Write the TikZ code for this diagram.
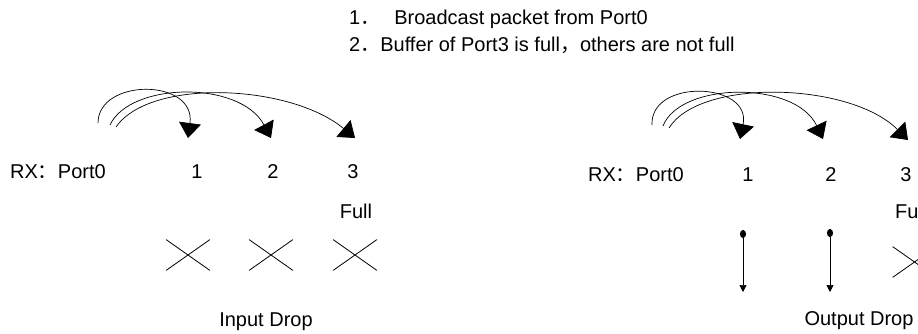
\documentclass[tikz,border=0pt]{standalone}
\usepackage{fontspec}
\setmainfont{Liberation Sans}
\newfontfamily\cjk{Noto Sans CJK SC}
\newcommand\fullw[1]{{\cjk #1}}
\usetikzlibrary{arrows.meta,shapes.misc}

\begin{document}
\begin{tikzpicture}[x=1pt, y=-1pt, font=\fontsize{20}{24}\selectfont,
  lbl/.style={inner sep=0pt, anchor=base},
  xmark/.style={cross out, draw, line width=0.8pt, inner sep=0pt, minimum width=43pt, minimum height=30pt},
  bcast/.style={-{Triangle[length=15pt,width=22pt]}, line width=0.7pt},
  drop/.style={{Circle[length=8pt,width=6pt]}-{Triangle[length=7pt,width=7pt]}, line width=0.7pt}]
  \useasboundingbox (0,0) rectangle (918,334);
  \clip (0,0) rectangle (918,334);
  % notes
  \node[lbl, anchor=base west] (h1) at (349,25) {1\fullw{．}\hspace{14pt}Broadcast packet from Port0};
  \node[lbl, anchor=base west] (h2) at (349,52) {2\fullw{．}Buffer of Port3 is full\fullw{，}others are not full};
  % input drop
  \node[lbl, anchor=base west] (rxa) at (10,178) {RX\fullw{：}Port0};
  \node[lbl] (a1) at (197,178) {1};
  \node[lbl] (a2) at (273,178) {2};
  \node[lbl] (a3) at (353,178) {3};
  \node[lbl] (fulla) at (356,218) {Full};
  \node[xmark] (xa1) at (188,255) {};
  \node[xmark] (xa2) at (271,255) {};
  \node[xmark] (xa3) at (355,255) {};
  \node[lbl] (inpd) at (266,326) {Input Drop};
  \coordinate (sa1) at (98,123);  \coordinate (ta1) at (188,138);
  \coordinate (sa2) at (110,125); \coordinate (ta2) at (271,138);
  \coordinate (sa3) at (116,127); \coordinate (ta3) at (355,138);
  \draw[bcast] (sa1) .. controls (98,78) and (196,78) .. (ta1);
  \draw[bcast] (sa2) .. controls (130,82) and (240,80) .. (ta2);
  \draw[bcast] (sa3) .. controls (150,78) and (290,84) .. (ta3);
  % output drop
  \node[lbl, anchor=base west] (rxb) at (588,181) {RX\fullw{：}Port0};
  \node[lbl] (b1) at (748,181) {1};
  \node[lbl] (b2) at (831,181) {2};
  \node[lbl] (b3) at (906,181) {3};
  \node[lbl, anchor=base west] (fullb) at (895,218) {Full};
  \node[xmark] (xb3) at (914.5,262) {};
  \node[lbl] (outd) at (859,325) {Output Drop};
  \coordinate (sb1) at (652,125); \coordinate (tb1) at (740,139);
  \coordinate (sb2) at (663,126); \coordinate (tb2) at (823,139);
  \coordinate (sb3) at (669,128); \coordinate (tb3) at (908,140);
  \draw[bcast] (sb1) .. controls (650,78) and (752,82) .. (tb1);
  \draw[bcast] (sb2) .. controls (680,82) and (795,80) .. (tb2);
  \draw[bcast] (sb3) .. controls (700,78) and (850,82) .. (tb3);
  \coordinate (d1) at (743,230); \coordinate (e1) at (743,292);
  \coordinate (d2) at (830,229); \coordinate (e2) at (830,292);
  \draw[drop] (d1) -- (e1);
  \draw[drop] (d2) -- (e2);
\end{tikzpicture}
\end{document}
